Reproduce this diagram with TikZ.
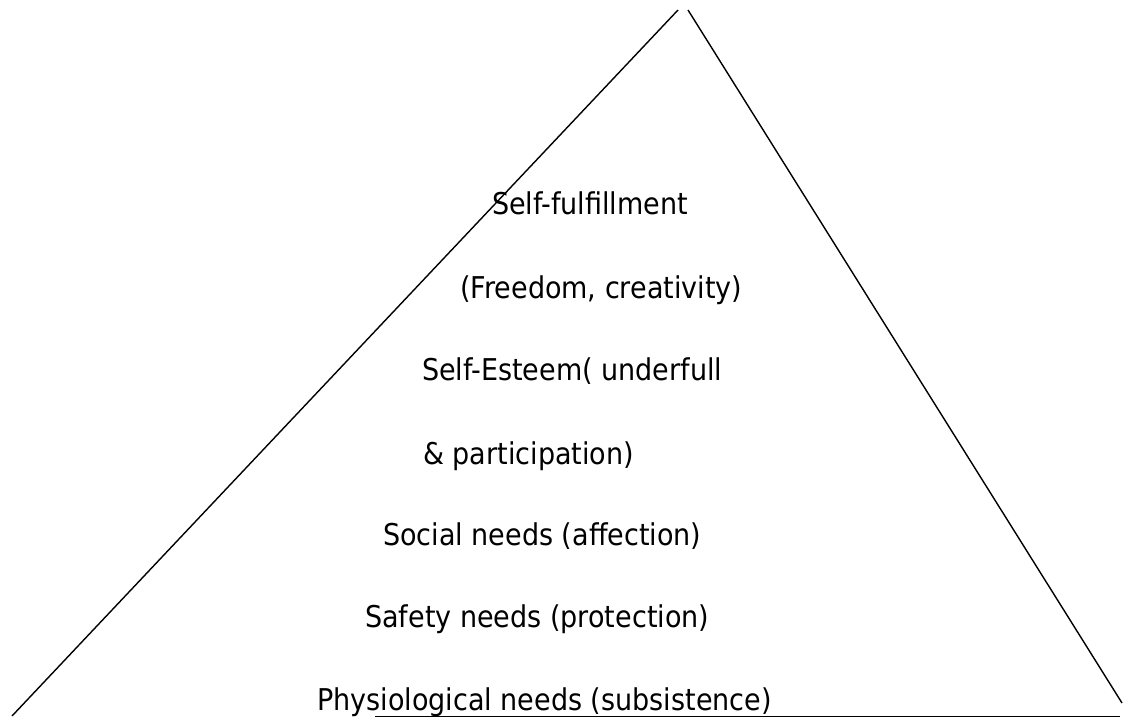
\documentclass[tikz,border=0pt]{standalone}
\usepackage{fontspec}
\setmainfont{DejaVu Sans}[FakeStretch=0.9]
\begin{document}
\begin{tikzpicture}[x=1pt,y=-1pt,
  need/.style={anchor=base west,inner sep=0pt,font=\fontsize{30}{36}\selectfont},
  edge/.style={line width=1.4pt,black}]
\useasboundingbox (0,0) rectangle (1123,718);
% corners of the pyramid (the two sides do not quite meet at the top)
\coordinate (leftfoot)  at (12,716);
\coordinate (lefttop)   at (678,10);
\coordinate (righttop)  at (688,10);
\coordinate (rightfoot) at (1122,703);
\coordinate (basestart) at (375,716.5);
\coordinate (baseend)   at (1120,716.5);
\draw[edge] (leftfoot) -- (lefttop);
\draw[edge] (righttop) -- (rightfoot);
\draw[edge] (basestart) -- (baseend);
% levels of need, from top to bottom
\node[need] (fulfil)  at (492,214) {Self-fulfillment};
\node[need] (freedom) at (460,298) {(Freedom, creativity)};
\node[need] (esteem)  at (422,380) {Self-Esteem( underfull};
\node[need] (partic)  at (423,464) {\& participation)};
\node[need] (social)  at (383,545) {Social needs (affection)};
\node[need] (safety)  at (365,627) {Safety needs (protection)};
\node[need] (physio)  at (317,710) {Physiological needs (subsistence)};
\end{tikzpicture}
\end{document}
